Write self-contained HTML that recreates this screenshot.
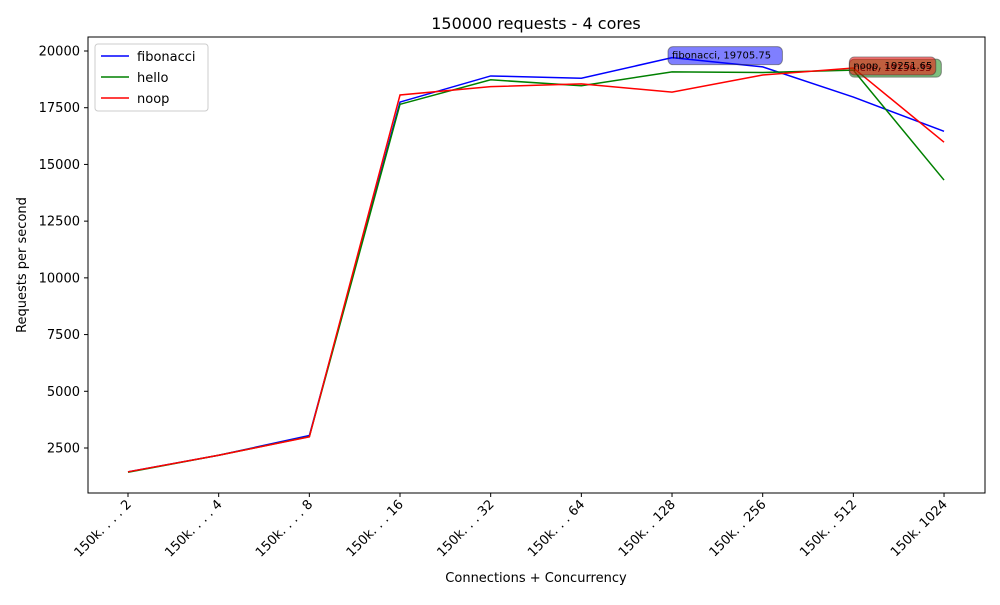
<!DOCTYPE html>
<html><head><meta charset="utf-8"><style>
body{margin:0;background:#fff}
svg{font-family:"DejaVu Sans","Liberation Sans",sans-serif}
</style></head><body>
<svg id="chart" width="1000" height="600">
<rect width="1000" height="600" fill="#fff"/>
<text x="536" y="29" text-anchor="middle" font-size="16">150000 requests - 4 cores</text>
<text x="536" y="582" text-anchor="middle" font-size="13">Connections + Concurrency</text>
<text transform="translate(26,265) rotate(-90)" text-anchor="middle" font-size="13">Requests per second</text>
<g id="ticks"></g><g id="series"></g><g id="ann"></g>
<rect x="88" y="37" width="897" height="456" fill="none" stroke="#000"/>
<g>
<rect x="95" y="44" width="113" height="67" rx="3" fill="#fff" fill-opacity="0.8" stroke="#ccc"/>
<g><line x1="101" y1="56" x2="129" y2="56" stroke="blue" stroke-width="1.5"/><text x="137" y="61" font-size="13">fibonacci</text></g>
<g><line x1="101" y1="77" x2="129" y2="77" stroke="green" stroke-width="1.5"/><text x="137" y="82" font-size="13">hello</text></g>
<g><line x1="101" y1="98" x2="129" y2="98" stroke="red" stroke-width="1.5"/><text x="137" y="103" font-size="13">noop</text></g>
</g>
</svg>
<script>
const categories=["150k....2","150k....4","150k....8","150k...16","150k...32","150k...64","150k..128","150k..256","150k..512","150k.1024"];
const fibonacci=[1450,2180,3050,17750,18900,18800,19705.75,19300,17970,16460];
const hello=[1430,2180,3000,17650,18730,18470,19080,19050,19156.35,14310];
const noop=[1450,2180,2990,18060,18430,18550,18190,18940,19251.65,15980];
const yTicks=[2500,5000,7500,10000,12500,15000,17500,20000];
const NS="http://www.w3.org/2000/svg";
function x(i){return 128+i*90.67;}
function y(v){return 448-(v-2500)*(397/17500);}
function mk(t,a,p){const e=document.createElementNS(NS,t);for(const k in a)e.setAttribute(k,a[k]);p.appendChild(e);return e;}
const tg=document.getElementById('ticks');
yTicks.forEach(v=>{
 const l=mk('line',{x1:84,x2:88,y1:y(v),y2:y(v),stroke:'#000'},tg);
 
 
 const t=mk('text',{x:80,y:y(v)+4.5,'text-anchor':'end','font-size':13},tg);t.textContent=v;
 
 
});
categories.forEach((c,i)=>{
 const l=mk('line',{x1:x(i),x2:x(i),y1:493,y2:497,stroke:'#000'},tg);
 
 
 const t=mk('text',{transform:`translate(${x(i)+4},${505}) rotate(-45)`,'text-anchor':'end','font-size':13},tg);
 const m=c.match(/^(150k)(\.+)(\d+)$/);
 const a=mk('tspan',{},t);a.textContent=m[1];
 const b=mk('tspan',{'letter-spacing':'4.3'},t);b.textContent=m[2];
 const d=mk('tspan',{},t);d.textContent=m[3];
 
 
});
const sg=document.getElementById('series');
[[fibonacci,'blue','fibonacci'],[hello,'green','hello'],[noop,'red','noop']].forEach(([d,c,n])=>{
 const p=mk('polyline',{points:d.map((v,i)=>x(i)+','+y(v)).join(' '),fill:'none',stroke:c,'stroke-width':1.5},sg);
 
 
});
const ag=document.getElementById('ann');
function ann(d,name,col,dy){
 let mi=0;d.forEach((v,i)=>{if(v>d[mi])mi=i;});
 const px=x(mi),py=y(d[mi]);
 const label=name+', '+d[mi];
 const g=mk('g',{},ag);
 
 
 mk('rect',{x:px-4,y:py-11+dy,width:label.length*5.6+8,height:18,rx:5,fill:col,'fill-opacity':0.5,stroke:'#333','stroke-opacity':0.5},g);
 const t=mk('text',{x:px,y:py+1+dy,'font-size':10},g);t.textContent=label;
}
ann(hello,'hello','green',0);
ann(noop,'noop','red',0);
ann(fibonacci,'fibonacci','blue',0);
</script>
</body></html>
